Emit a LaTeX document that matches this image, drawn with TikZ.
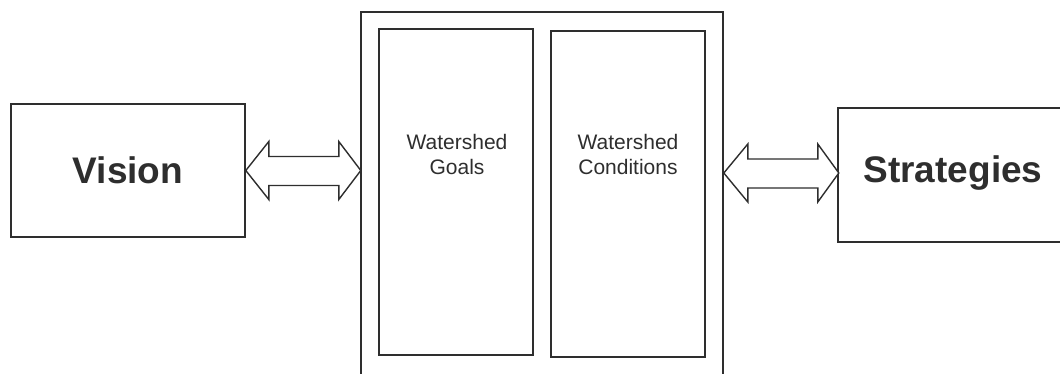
\documentclass[tikz,border=0pt]{standalone}
\usepackage{fontspec}
\setmainfont{Liberation Sans}
\usetikzlibrary{calc}
\definecolor{ink}{gray}{0.18}
\tikzset{
  box/.style={draw=ink, line width=1.6pt, rectangle, inner sep=0pt},
  bigtxt/.style={text=ink, font=\fontsize{37}{40}\selectfont\bfseries, inner sep=0pt},
  smalltxt/.style={text=ink, font=\fontsize{21}{25}\selectfont, align=center, inner sep=0pt},
  arrowshape/.style={draw=ink, line width=1.4pt, fill=white, line join=miter}
}
\begin{document}
\begin{tikzpicture}[x=1pt,y=-1pt]
\useasboundingbox (0,0) rectangle (1060,373);
\begin{scope}
\clip (0,0) rectangle (1060,373);
\node[box, minimum width=234pt, minimum height=133pt] (vision) at (128,170.5) {};
\node[bigtxt] (visiontxt) at (vision.center) {Vision};
\node[box, minimum width=362pt, minimum height=390pt] (outer) at (542,207) {};
\node[box, minimum width=154pt, minimum height=326pt] (goals) at (456,192) {};
\node[box, minimum width=154pt, minimum height=326pt] (conds) at (628,194) {};
\node[smalltxt] (goalstxt) at (457,154) {Watershed\\Goals};
\node[smalltxt] (condstxt) at (628,154) {Watershed\\Conditions};
\node[box, minimum width=250pt, minimum height=134pt] (strat) at (963,175) {};
\node[bigtxt] (strattxt) at (953,173) {Strategies};
\draw[arrowshape] (vision.east) -- ++(23,-29) -- ++(0,15) -- ++(70,0) -- ++(0,-15)
  -- ++(22,29) -- ++(-22,29) -- ++(0,-14) -- ++(-70,0) -- ++(0,14) -- cycle;
\draw[arrowshape] (outer.east |- 0,173) -- ++(24,-29) -- ++(0,15) -- ++(70,0) -- ++(0,-15)
  -- ++(21,29) -- ++(-21,29) -- ++(0,-14) -- ++(-70,0) -- ++(0,14) -- cycle;
\end{scope}
\end{tikzpicture}
\end{document}
